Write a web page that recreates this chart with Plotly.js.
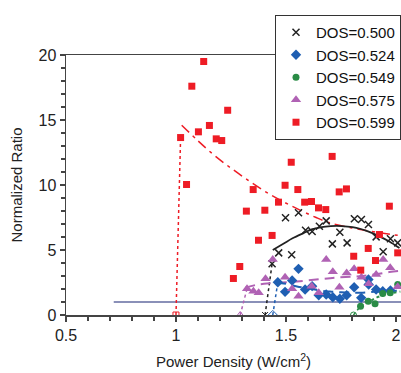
<!DOCTYPE html>
<html><head><meta charset="utf-8">
<script src="https://cdn.plot.ly/plotly-3.0.1.min.js"></script>
<style>html,body{margin:0;padding:0;background:#fff;}#c{width:401px;height:373px;}</style>
</head><body><div id="c"></div>
<script>
// DOS=0.500 (black x)
const x500 = [1.437,1.467,1.498,1.526,1.557,1.589,1.619,1.652,1.683,1.711,1.745,1.778,1.811,1.843,1.875,1.910,1.942,1.975,2.008];
const y500 = [3.94,4.78,7.48,4.63,7.86,6.52,6.42,6.83,7.24,5.47,6.37,5.55,7.40,7.35,6.96,6.01,4.86,5.86,5.55];
const fitX500 = [1.44,1.49,1.53,1.58,1.62,1.68,1.73,1.78,1.82,1.87,1.925,1.97,2.016];
const fitY500 = [5.0,5.5,5.9,6.3,6.6,6.8,6.85,6.8,6.7,6.45,6.05,5.65,5.15];
const zero500 = [1.405,1.437]; const zeroY500 = [0,3.94];

// DOS=0.524 (blue diamond)
const x524 = [1.463,1.496,1.528,1.557,1.587,1.619,1.649,1.683,1.713,1.745,1.776,1.810,1.842,1.875,1.876,1.910,1.940,1.975];
const y524 = [2.52,1.78,2.65,3.55,1.96,2.22,1.52,1.58,1.37,1.25,1.52,2.14,1.32,2.73,2.35,1.96,1.83,1.88];
const fitX524 = [1.455,1.50,1.55,1.60,1.65,1.70,1.75,1.80,1.85,1.90,1.95,2.02];
const fitY524 = [2.5,2.4,2.2,2.05,1.9,1.8,1.75,1.72,1.72,1.78,1.82,1.88];
const zero524 = [1.44,1.463]; const zeroY524 = [0,2.52];

// DOS=0.549 (green circle)
const x549 = [1.839,1.874,1.905,1.940,1.974,2.008];
const y549 = [0.68,1.06,0.86,1.65,1.71,2.35];
const fitX549 = [1.839,1.88,1.92,1.96,2.02];
const fitY549 = [0.7,1.05,1.4,1.6,1.8];
const zero549 = [1.807,1.839]; const zeroY549 = [0,0.68];

// DOS=0.575 (purple triangle)
const x575 = [1.323,1.352,1.376,1.407,1.440,1.496,1.528,1.557,1.617,1.649,1.683,1.713,1.743,1.776,1.810,1.843,1.876,1.910,1.942,1.974,2.008];
const y575 = [2.02,1.83,1.71,2.78,4.27,2.91,2.02,1.45,2.22,1.71,4.27,3.32,2.14,3.24,3.55,2.91,2.40,3.12,4.27,3.63,2.17];
const fitX575 = [1.315,1.36,1.40,1.46,1.55,1.65,1.73,1.85,1.97,2.02];
const fitY575 = [2.1,2.3,2.4,2.48,2.58,2.75,2.88,3.0,3.3,3.4];
const zero575 = [1.292,1.323]; const zeroY575 = [0,2.02];

// DOS=0.599 (red square)
const x599 = [1.021,1.048,1.072,1.126,1.102,1.152,1.183,1.208,1.235,1.320,1.290,1.261,1.351,1.375,1.404,1.437,1.466,1.496,1.524,1.554,1.585,1.616,1.648,1.681,1.710,1.742,1.775,1.808,1.840,1.874,1.907,1.925,1.970,2.008];
const y599 = [13.65,10.04,17.6,19.5,14.09,14.58,13.55,13.42,15.75,7.99,3.73,2.81,9.65,5.75,8.06,6.12,8.68,9.98,11.75,9.65,8.68,8.73,8.24,8.11,12.2,9.47,9.7,4.52,3.45,5.12,4.19,6.19,8.37,4.78];
const fitX599 = [1.026,1.10,1.18,1.258,1.342,1.425,1.524,1.637,1.698,1.80,1.88,2.02];
const fitY599 = [14.6,13.4,12.2,11.2,10.2,9.3,8.4,7.5,7.1,6.7,6.45,6.1];
const zero599 = [1.0,1.021]; const zeroY599 = [0,13.65];

// reference line
const refX = [0.717, 2.05];
const refY = [1, 1];

const cBlack = '#222222', cBlue = '#1f5fb2', cGreen = '#2a8c46', cPurple = '#b062b4', cRed = '#ee1c25', cRef = '#8a90b8';

function pts(x, y, name, sym, color, size, lw) {
  return {x, y, name, type:'scatter', mode:'markers', showlegend:true,
    marker:{symbol:sym, color:color, size:size, line:{color:color, width:lw||0}}};
}
function fit(x, y, color, dash, w) {
  return {x, y, type:'scatter', mode:'lines', showlegend:false, hoverinfo:'skip',
    line:{color:color, dash:dash, width:w, shape:'spline'}};
}
function zero(x, y, color, sym, size) {
  return {x:[x[0]], y:[y[0]], type:'scatter', mode:'markers', showlegend:false,
    marker:{symbol:sym, color:color, size:size, line:{color:color, width:1}}};
}
function dot(x, y, color) {
  return {x, y, type:'scatter', mode:'lines', showlegend:false, hoverinfo:'skip',
    line:{color:color, dash:'dot', width:1.5}};
}

const data = [
  {x:refX, y:refY, type:'scatter', mode:'lines', showlegend:false, line:{color:cRef, width:2}},
  dot(zero599, zeroY599, cRed), dot(zero575, zeroY575, cPurple), dot(zero500, zeroY500, cBlack),
  dot(zero524, zeroY524, cBlue), dot(zero549, zeroY549, cGreen),
  fit(fitX599, fitY599, cRed, '10px,5px,3px,5px', 1.5),
  fit(fitX575, fitY575, cPurple, '10px,6px', 2),
  fit(fitX524, fitY524, cBlue, '10px,6px', 2),
  fit(fitX549, fitY549, cGreen, 'dot', 2),
  fit(fitX500, fitY500, cBlack, 'solid', 1.8),
  zero(zero599, zeroY599, cRed, 'square-open', 6),
  zero(zero575, zeroY575, cPurple, 'triangle-up-open', 7),
  zero(zero500, zeroY500, cBlack, 'x-thin-open', 6),
  zero(zero524, zeroY524, cBlue, 'diamond-open', 7),
  zero(zero549, zeroY549, cGreen, 'circle-open', 6),
  pts(x500, y500, 'DOS=0.500', 'x-thin-open', cBlack, 7, 1.5),
  pts(x524, y524, 'DOS=0.524', 'diamond', cBlue, 8),
  pts(x549, y549, 'DOS=0.549', 'circle', cGreen, 7),
  pts(x575, y575, 'DOS=0.575', 'triangle-up', cPurple, 9),
  pts(x599, y599, 'DOS=0.599', 'square', cRed, 7)
];

const font = 'Liberation Sans, Arial, sans-serif';
const layout = {
  width:401, height:373,
  margin:{l:66, r:0, t:55, b:58},
  paper_bgcolor:'#fff', plot_bgcolor:'#fff',
  font:{family:font, size:15, color:'#222'},
  showlegend:true,
  legend:{x:1, xanchor:'right', y:1.154, yanchor:'top', bgcolor:'#fff', bordercolor:'#333', borderwidth:1,
    font:{family:font, size:15, color:'#111'}, tracegroupgap:0, itemwidth:30},
  xaxis:{range:[0.5, 2.023], tickvals:[0.5,1,1.5,2], ticktext:['0.5','1','1.5','2'],
    ticks:'outside', ticklen:5, tickwidth:1.2, tickcolor:'#444',
    minor:{dtick:0.1, tick0:0.5, ticks:'outside', ticklen:4, tickcolor:'#444', showgrid:false},
    showline:true, linecolor:'#444', linewidth:1.5, mirror:true, showgrid:false, zeroline:false,
    tickfont:{size:16, color:'#222'},
    title:{text:'Power Density (W/cm<sup>2</sup>)', font:{size:15, color:'#222'}, standoff:14}},
  yaxis:{range:[0, 20], tickvals:[0,5,10,15,20],
    ticks:'outside', ticklen:5, tickwidth:1.2, tickcolor:'#444',
    minor:{dtick:1, ticks:'outside', ticklen:4, tickcolor:'#444', showgrid:false},
    showline:true, linecolor:'#444', linewidth:1.5, showgrid:false, zeroline:false,
    tickfont:{size:16, color:'#222'},
    title:{text:'Normalized Ratio', font:{size:15, color:'#222'}, standoff:12}}
};
Plotly.newPlot('c', data, layout, {displayModeBar:false, staticPlot:true});
</script></body></html>
